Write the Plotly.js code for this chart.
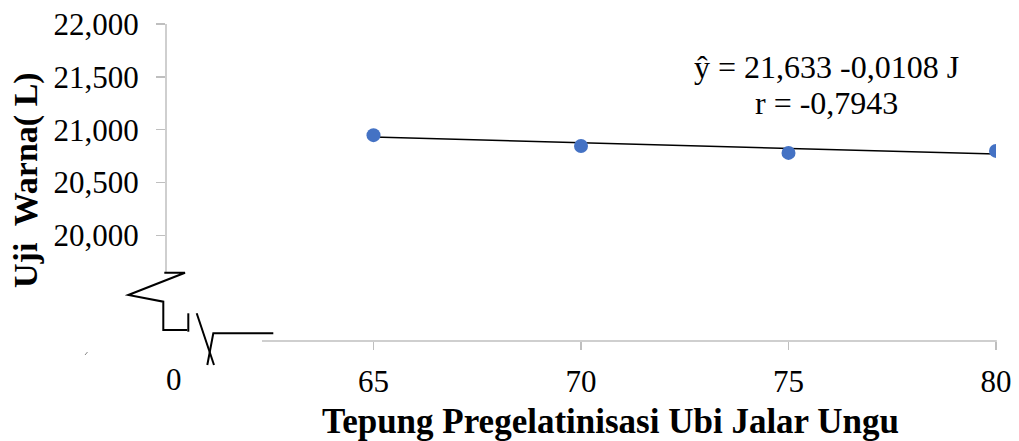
<!DOCTYPE html>
<html>
<head>
<meta charset="utf-8">
<script src="https://cdn.plot.ly/plotly-3.0.1.min.js"></script>
<style>html,body{margin:0;padding:0;background:#fff}#chart{width:1019px;height:441px}</style>
</head>
<body>
<div id="chart"></div>
<script>
// ---- data ----
const concentration = [65, 70, 75, 80];             // Tepung pregelatinisasi (%)
const colorL = [20.948, 20.846, 20.780, 20.799];    // Uji warna (L)
const intercept = 21.633;
const slope = -0.0108;
const rValue = '-0,7943';
const xTickVals = [65, 70, 75, 80];
const xTickText = ['65', '70', '75', '80'];
const xBreakLabel = '0';
const yTickVals = [20, 20.5, 21, 21.5, 22];
const yTickText = ['20,000', '20,500', '21,000', '21,500', '22,000'];
const xTitle = 'Tepung Pregelatinisasi Ubi Jalar Ungu';
const yTitle = 'Uji  Warna( L)';
const equationText = 'ŷ = 21,633 -0,0108 J';

// ---- layout geometry (pixels) ----
const W = 1019, H = 441;
const mL = 166, mR = 23, mT = 24, mB = 100;
const plotW = W - mL - mR, plotH = H - mT - mB;
const fx = px => (px - mL) / plotW;
const fy = py => (H - mB - py) / plotH;
const pt = (x, y) => fx(x).toFixed(5) + ',' + fy(y).toFixed(5);

const FONT = '"Liberation Serif", "Times New Roman", serif';
const gray = '#bfbfbf';

const trendX = [concentration[0], concentration[concentration.length - 1]];
const trendY = trendX.map(x => intercept + slope * x);

const traces = [
  {
    x: trendX, y: trendY, type: 'scatter', mode: 'lines',
    line: {color: '#000000', width: 1.5}, hoverinfo: 'skip', showlegend: false
  },
  {
    x: concentration, y: colorL, type: 'scatter', mode: 'markers',
    marker: {color: '#4472C4', size: 14}, showlegend: false
  }
];

const breakPath1 = 'M ' + pt(164.3, 272.7) + ' L ' + pt(185, 272.7) + ' L ' + pt(128.3, 295) +
  ' L ' + pt(163.3, 301.7) + ' L ' + pt(163.3, 330) + ' L ' + pt(187.3, 330);
const breakPath2 = 'M ' + pt(188.3, 313.3) + ' L ' + pt(188.3, 331.7);
const breakPath3 = 'M ' + pt(196.7, 313.3) + ' L ' + pt(214, 365);
const breakPath4 = 'M ' + pt(207.3, 365) + ' L ' + pt(213.3, 333.3) + ' L ' + pt(273.3, 333.3);

const layout = {
  width: W, height: H,
  margin: {l: mL, r: mR, t: mT, b: mB, pad: 0},
  paper_bgcolor: '#ffffff', plot_bgcolor: '#ffffff',
  showlegend: false,
  font: {family: FONT, color: '#000000', size: 31},
  xaxis: {
    range: [60, 80], showgrid: false, zeroline: false, showline: false,
    tickvals: xTickVals, ticktext: xTickText,
    ticks: 'outside', ticklen: 8, tickwidth: 1.5, tickcolor: gray,
    ticklabelstandoff: 5,
    tickfont: {family: FONT, size: 31, color: '#000'}
  },
  yaxis: {
    range: [19, 22], showgrid: false, zeroline: false, showline: false,
    tickvals: yTickVals, ticktext: yTickText,
    ticks: 'outside', ticklen: 9, tickwidth: 1.5, tickcolor: gray,
    ticklabelstandoff: 11,
    tickfont: {family: FONT, size: 31, color: '#000'}
  },
  shapes: [
    {type: 'line', xref: 'paper', yref: 'paper', x0: 0, x1: 0, y0: fy(272.7), y1: 1,
     line: {color: gray, width: 1.5}},
    {type: 'line', xref: 'paper', yref: 'paper', x0: fx(262), x1: 1.001, y0: 0, y1: 0,
     line: {color: gray, width: 1.5}},
    {type: 'path', xref: 'paper', yref: 'paper', path: breakPath1, line: {color: '#000', width: 2}},
    {type: 'path', xref: 'paper', yref: 'paper', path: breakPath2, line: {color: '#000', width: 2}},
    {type: 'path', xref: 'paper', yref: 'paper', path: breakPath3, line: {color: '#000', width: 2}},
    {type: 'path', xref: 'paper', yref: 'paper', path: breakPath4, line: {color: '#000', width: 2}},
    {type: 'line', xref: 'paper', yref: 'paper', x0: fx(85), y0: fy(355), x1: fx(87.5), y1: fy(352),
     line: {color: '#888', width: 1}}
  ],
  annotations: [
    {text: xBreakLabel, xref: 'paper', yref: 'paper', x: fx(174), y: fy(380),
     xanchor: 'center', yanchor: 'middle', showarrow: false,
     font: {family: FONT, size: 31, color: '#000'}},
    {text: equationText, xref: 'paper', yref: 'paper', x: fx(826), y: fy(67),
     xanchor: 'center', yanchor: 'middle', showarrow: false,
     font: {family: FONT, size: 32, color: '#000'}},
    {text: 'r = ' + rValue, xref: 'paper', yref: 'paper', x: fx(826), y: fy(103),
     xanchor: 'center', yanchor: 'middle', showarrow: false,
     font: {family: FONT, size: 32, color: '#000'}},
    {text: '<b>' + xTitle + '</b>', xref: 'paper', yref: 'paper', x: fx(610), y: fy(421),
     xanchor: 'center', yanchor: 'middle', showarrow: false,
     font: {family: FONT, size: 35, color: '#000'}},
    {text: '<b>' + yTitle + '</b>', xref: 'paper', yref: 'paper', x: fx(26), y: fy(180),
     xanchor: 'center', yanchor: 'middle', textangle: -90, showarrow: false,
     font: {family: FONT, size: 34, color: '#000'}}
  ]
};

Plotly.newPlot('chart', traces, layout, {displayModeBar: false, staticPlot: true});
</script>
</body>
</html>
